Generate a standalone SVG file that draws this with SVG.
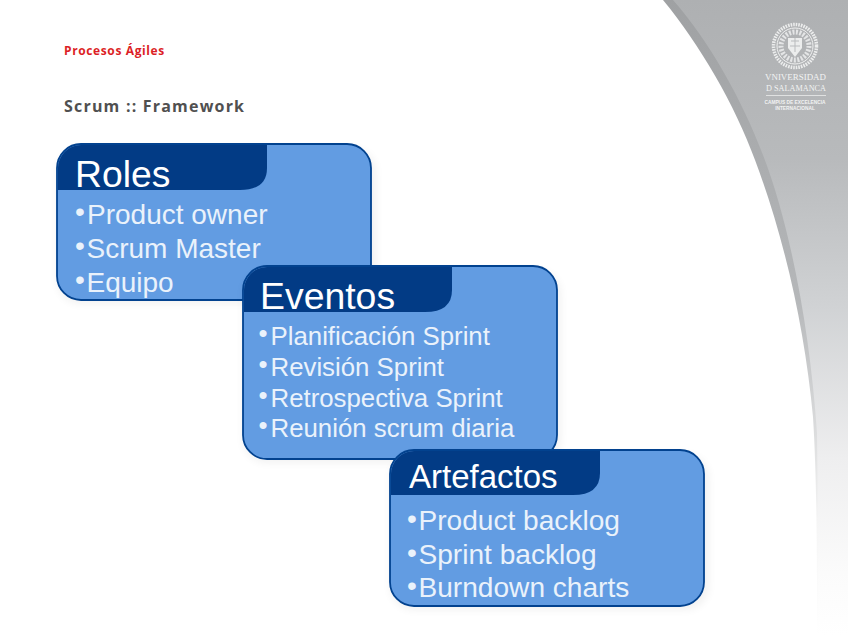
<svg xmlns="http://www.w3.org/2000/svg" width="848" height="636" viewBox="0 0 848 636">
<defs>
<linearGradient id="g" x1="0" y1="0" x2="0" y2="1"><stop offset="0" stop-color="#aeb0b2"/><stop offset=".25" stop-color="#b8babc"/><stop offset=".48" stop-color="#d0d2d4"/><stop offset=".72" stop-color="#eeeeef"/><stop offset=".9" stop-color="#fbfbfb"/><stop offset="1" stop-color="#ffffff"/></linearGradient>
<linearGradient id="b" x1="0" y1="0" x2="0" y2="1"><stop offset="0" stop-color="#9fa1a3"/><stop offset=".47" stop-color="#b5b7b9"/><stop offset=".66" stop-color="#d8d9da"/><stop offset=".82" stop-color="#f5f5f5"/><stop offset="1" stop-color="#ffffff"/></linearGradient>
<filter id="s" x="-5%" y="-5%" width="110%" height="110%"><feGaussianBlur stdDeviation="4"/></filter>
</defs>
<style>
text{font-family:"Liberation Sans",Arial,sans-serif}
.box{fill:#629ce2;stroke:#02428f;stroke-width:1.8}
.tab{fill:#023b85}
.sh{fill:#000;opacity:.05;filter:url(#s)}
.h{fill:#fff}
.i{fill:#eaf2fb}
.lg{fill:#f2f3f3;text-anchor:middle;font-family:"Liberation Serif",serif}
.lt{fill:#f2f3f3;text-anchor:middle;font-weight:700;font-size:4.8px}
</style>
<rect width="848" height="636" fill="#fff"/>
<g id="background">
<path d="M663 0C700 45 735 105 755 160C785 240 805 330 813 417C817 480 817 560 817 636H848V0Z" fill="url(#b)"/>
<path d="M673 0C710 42 742 100 763 155C790 225 810 330 817 433C818 500 818 570 818 636H848V0Z" fill="url(#g)"/>
</g>
<g id="logo">
<circle cx="795" cy="46" r="21.5" fill="none" stroke="#eceded" stroke-width="3.5" stroke-dasharray="1.6 1"/>
<circle cx="795" cy="46" r="18" fill="none" stroke="#f0f1f1" stroke-width="1"/>
<circle cx="795" cy="46" r="14" fill="none" stroke="#e4e5e6" stroke-width="5" stroke-dasharray="2 1.5"/>
<path d="M788 38h14v10l-7 9l-7-9z" fill="#eceded"/>
<path d="M791 41h8M795 38v14M790 46h10" stroke="#b9bbbd" stroke-width="1"/>
<text class="lg" x="795.500" y="80" font-size="9" textLength="61" lengthAdjust="spacingAndGlyphs">VNIVERSIDAD</text>
<text class="lg" x="796" y="91" font-size="9" textLength="60" lengthAdjust="spacingAndGlyphs">D SALAMANCA</text>
<rect x="766" y="95" width="60" height="1" fill="#e0e1e1"/>
<text class="lt" x="795" y="104">CAMPUS DE EXCELENCIA</text>
<text class="lt" x="795" y="110">INTERNACIONAL</text>
</g>
<g id="title">
<text x="64" y="55" font-size="12" font-weight="700" fill="#dc1f26" letter-spacing=".62" style="font-family:'Open Sans',sans-serif">Procesos Ágiles</text>
<text x="64" y="112" font-size="16" font-weight="700" fill="#505050" letter-spacing="1.2" style="font-family:'Open Sans',sans-serif">Scrum :: Framework</text>
</g>
<g id="connectors"></g>
<g id="roles">
<rect class="sh" x="57" y="148" width="319" height="156" rx="24"/>
<rect class="box" x="57" y="144" width="314" height="156" rx="24"/>
<path class="tab" d="M58 190V168A23 23 0 0 1 81 145H267V168Q267 190 240 190Z"/>
<text class="h" x="75" y="187" font-size="37.300">Roles</text>
<text class="i" x="75" y="224" font-size="28"><tspan dy="-3.500">•</tspan><tspan x="87" dy="3.500">Product owner</tspan></text>
<text class="i" x="75" y="258" font-size="28"><tspan dy="-3.500">•</tspan><tspan x="86.500" dy="3.500">Scrum Master</tspan></text>
<text class="i" x="75" y="292" font-size="28"><tspan dy="-3.500">•</tspan><tspan x="86.500" dy="3.500">Equipo</tspan></text>
</g>
<g id="eventos">
<rect class="sh" x="243" y="270" width="318" height="193" rx="24"/>
<rect class="box" x="243" y="266" width="314" height="193" rx="24"/>
<path class="tab" d="M244 312V290A23 23 0 0 1 267 267H452V290Q452 312 425 312Z"/>
<text class="h" x="260" y="309" font-size="37.400">Eventos</text>
<text class="i" x="258.500" y="345" font-size="25.800"><tspan dy="-3.500">•</tspan><tspan x="270.500" dy="3.500">Planificación Sprint</tspan></text>
<text class="i" x="258.500" y="376" font-size="25.800"><tspan dy="-3.500">•</tspan><tspan x="270.500" dy="3.500">Revisión Sprint</tspan></text>
<text class="i" x="258.500" y="407" font-size="25.800"><tspan dy="-3.500">•</tspan><tspan x="270.500" dy="3.500">Retrospectiva Sprint</tspan></text>
<text class="i" x="258.500" y="437" font-size="25.800"><tspan dy="-3.500">•</tspan><tspan x="270.500" dy="3.500">Reunión scrum diaria</tspan></text>
</g>
<g id="artefactos">
<rect class="sh" x="390" y="454" width="319" height="156" rx="24"/>
<rect class="box" x="390" y="450" width="314" height="156" rx="24"/>
<path class="tab" d="M391 495V474A23 23 0 0 1 414 451H600V473Q600 495 573 495Z"/>
<text class="h" x="409" y="488" font-size="33">Artefactos</text>
<text class="i" x="407" y="530" font-size="28.100"><tspan dy="-2.500">•</tspan><tspan x="418.500" dy="2.500">Product backlog</tspan></text>
<text class="i" x="407" y="564" font-size="28.100"><tspan dy="-2.500">•</tspan><tspan x="418.500" dy="2.500">Sprint backlog</tspan></text>
<text class="i" x="407" y="597" font-size="28.100"><tspan dy="-2.500">•</tspan><tspan x="418.500" dy="2.500">Burndown charts</tspan></text>
</g>
</svg>
